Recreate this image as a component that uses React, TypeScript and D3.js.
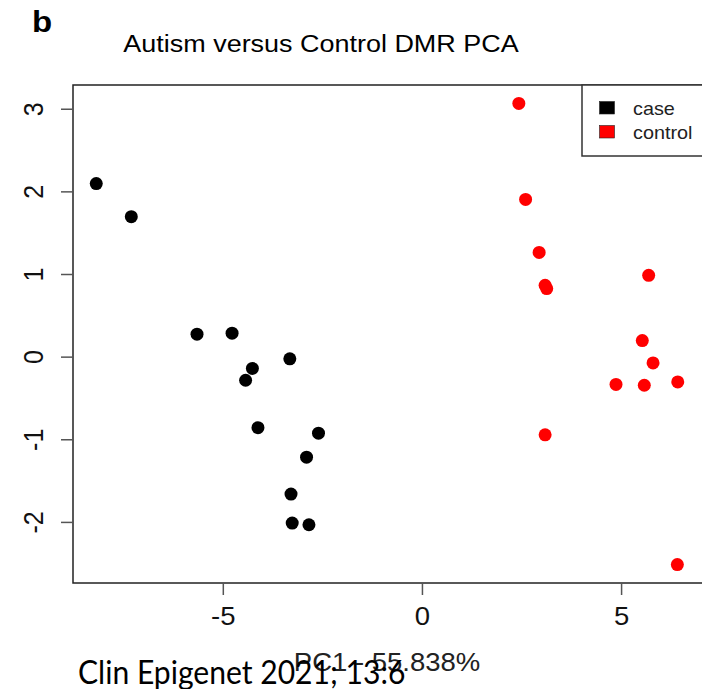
import React from "react";
import * as d3 from "d3";

const caseX = [-8.19, -7.31, -5.66, -4.78, -3.33, -4.27, -4.44, -4.13, -2.61, -2.91, -3.30, -3.27, -2.85];
const caseY = [2.10, 1.70, 0.278, 0.29, -0.02, -0.137, -0.28, -0.854, -0.92, -1.21, -1.657, -2.008, -2.028];
const controlX = [2.42, 2.59, 2.93, 3.08, 3.12, 5.68, 5.52, 5.79, 4.86, 5.57, 6.41, 3.08, 6.40];
const controlY = [3.07, 1.908, 1.267, 0.87, 0.83, 0.99, 0.20, -0.07, -0.33, -0.34, -0.30, -0.94, -2.51];
const xTicks = [-5, 0, 5];
const yTicks = [-2, -1, 0, 1, 2, 3];
const legendLabels = ["case", "control"];
const legendColors = ["#000000", "#ff0000"];
const title = "Autism versus Control DMR PCA";
const xLabel = "PC1 - 55.838%";
const panelLabel = "b";
const citation = "Clin Epigenet 2021; 13:6";

const L = 73, R = 701, T = 85, B = 583;
const SX = 1.1;
const FONT = "'Liberation Sans', Arial, Helvetica, sans-serif";

function ext(vals: number[]): [number, number] {
  const lo = d3.min(vals)!, hi = d3.max(vals)!;
  const pad = (hi - lo) * 0.04;
  return [lo - pad, hi + pad];
}

export default function App() {
  const x = d3.scaleLinear().domain(ext([...caseX, ...controlX])).range([L, R]);
  const y = d3.scaleLinear().domain(ext([...caseY, ...controlY])).range([B, T]);
  const caseData = caseX.map((v, i) => [v, caseY[i]]);
  const ctrlData = controlX.map((v, i) => [v, controlY[i]]);
  return (
    <svg width={702} height={689} style={{ position: "absolute", left: 0, top: 0, background: "#fff" }}>
      <rect x={0} y={0} width={702} height={689} fill="#fff" />
      <text transform={`translate(32,32) scale(${SX},1)`} fontFamily={FONT} fontWeight="bold" fontSize={30} fill="#000">{panelLabel}</text>
      <text transform={`translate(321,52) scale(${SX},1)`} textAnchor="middle" fontFamily={FONT} fontSize={24.5} fill="#000">{title}</text>
      {caseData.map((d, i) => (
        <circle key={"c" + i} cx={x(d[0])} cy={y(d[1])} r={6.5} fill="#000" />
      ))}
      {ctrlData.map((d, i) => (
        <circle key={"r" + i} cx={x(d[0])} cy={y(d[1])} r={6.5} fill="#ff0000" />
      ))}
      <rect x={L} y={T} width={R - L + 10} height={B - T} fill="none" stroke="#222" strokeWidth={1.5} />
      {xTicks.map((t) => (
        <g key={"xt" + t}>
          <line x1={x(t)} x2={x(t)} y1={B} y2={B + 12} stroke="#555" strokeWidth={1.5} />
          <text transform={`translate(${x(t)},625) scale(${SX},1)`} textAnchor="middle" fontFamily={FONT} fontSize={25} fill="#111">{t}</text>
        </g>
      ))}
      {yTicks.map((t) => (
        <g key={"yt" + t}>
          <line x1={L - 12} x2={L} y1={y(t)} y2={y(t)} stroke="#555" strokeWidth={1.5} />
          <text transform={`translate(43,${y(t)}) scale(${SX},1) rotate(-90)`} textAnchor="middle" fontFamily={FONT} fontSize={25} fill="#111">{t}</text>
        </g>
      ))}
      <text transform={`translate(387,671) scale(${SX},1)`} textAnchor="middle" fontFamily={FONT} fontSize={25} fill="#222">{xLabel}</text>
      <rect x={582} y={T} width={140} height={71} fill="#fff" stroke="#333" strokeWidth={1.5} />
      {legendLabels.map((lab, i) => (
        <g key={"lg" + i}>
          <rect x={599.5} y={101.5 + i * 24} width={15} height={12.5} fill={legendColors[i]} stroke="#222" strokeWidth={0.6} />
          <text transform={`translate(633,${115 + i * 23.5}) scale(${SX},1)`} fontFamily={FONT} fontSize={18} fill="#222">{lab}</text>
        </g>
      ))}
      <text transform="translate(78,684) scale(0.94,1)" fontFamily="Lato, 'Noto Sans', sans-serif" fontSize={32} fill="#000">{citation}</text>
    </svg>
  );
}
